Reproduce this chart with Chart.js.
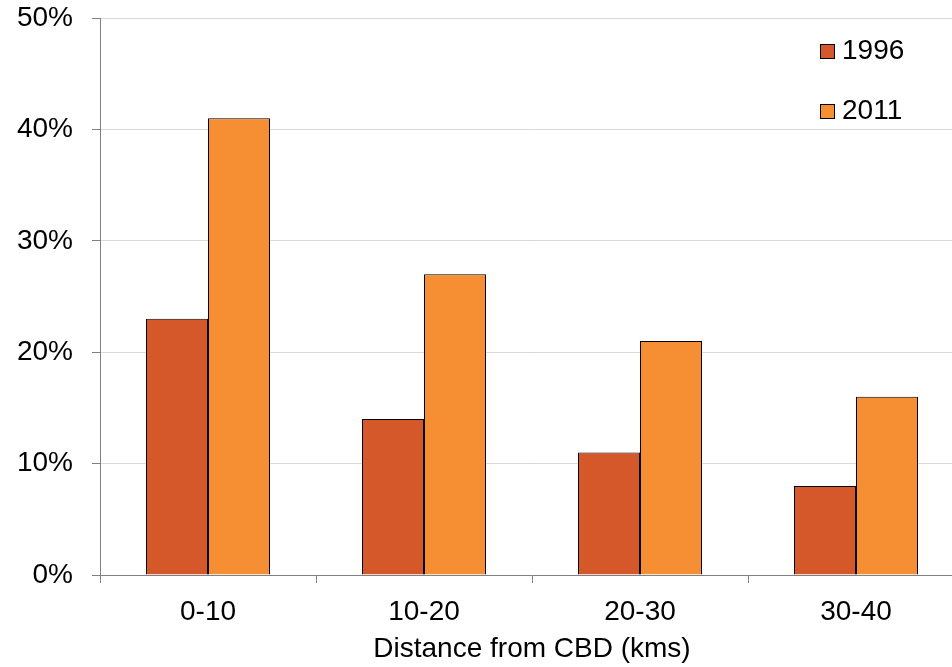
<!DOCTYPE html>
<html>
<head>
<meta charset="utf-8">
<script src="https://cdn.jsdelivr.net/npm/chart.js@4/dist/chart.umd.min.js"></script>
<style>
  html, body { margin: 0; padding: 0; background: #fff; overflow: hidden; }
  #wrap { width: 970px; height: 667px; }
</style>
</head>
<body>
<div id="wrap"><canvas id="chart" width="970" height="667"></canvas></div>
<script>
const categories = ["0-10", "10-20", "20-30", "30-40"];
const share1996 = [23, 14, 11, 8];
const share2011 = [41, 27, 21, 16];
const yTicks = [0, 10, 20, 30, 40, 50];

const FONT = "'Liberation Sans', Arial, sans-serif";

// legend drawn stacked in the top right corner, as in the original
const cornerLegend = {
  id: "cornerLegend",
  afterDraw(chart) {
    const ctx = chart.ctx;
    ctx.save();
    ctx.font = "28px " + FONT;
    ctx.textBaseline = "middle";
    chart.data.datasets.forEach((ds, i) => {
      const y = 51 + i * 60;
      ctx.fillStyle = ds.backgroundColor;
      ctx.fillRect(820, y - 7, 14, 14);
      ctx.strokeStyle = "#000";
      ctx.lineWidth = 1;
      ctx.strokeRect(820.5, y - 6.5, 14, 14);
      ctx.fillStyle = "#000";
      ctx.fillText(ds.label, 842, y);
    });
    ctx.restore();
  }
};

new Chart(document.getElementById("chart"), {
  type: "bar",
  data: {
    labels: categories,
    datasets: [
      { label: "1996", data: share1996, backgroundColor: "#D5582A",
        borderColor: "#000", borderWidth: 1 },
      { label: "2011", data: share2011, backgroundColor: "#F68E33",
        borderColor: "#000", borderWidth: 1 }
    ]
  },
  options: {
    responsive: false,
    animation: false,
    layout: { padding: { top: 18, right: 6, left: 0, bottom: 0 } },
    datasets: { bar: { categoryPercentage: 0.574, barPercentage: 1 } },
    plugins: { legend: { display: false }, tooltip: { enabled: false } },
    scales: {
      x: {
        afterFit(scale) { scale.height = 92; },
        grid: { drawOnChartArea: false, tickLength: 8, tickColor: "#808080" },
        border: { color: "#808080", width: 1 },
        ticks: { color: "#000", font: { family: FONT, size: 28 }, padding: 12 },
        title: { display: true, text: "Distance from CBD (kms)", color: "#000",
                 font: { family: FONT, size: 28 }, padding: { top: 0, bottom: 1 } }
      },
      y: {
        min: 0, max: 50,
        afterBuildTicks(scale) { scale.ticks = yTicks.map(v => ({ value: v })); },
        afterFit(scale) {
          scale.width = 100;
          scale.paddingTop = 0;
          scale.paddingBottom = 0;
        },
        grid: { color: "#d9d9d9", tickLength: 8, tickColor: "#808080" },
        border: { color: "#808080", width: 1 },
        ticks: { color: "#000", font: { family: FONT, size: 28 }, padding: 19,
                 callback: v => v + "%" }
      }
    }
  },
  plugins: [cornerLegend]
});
</script>
</body>
</html>
